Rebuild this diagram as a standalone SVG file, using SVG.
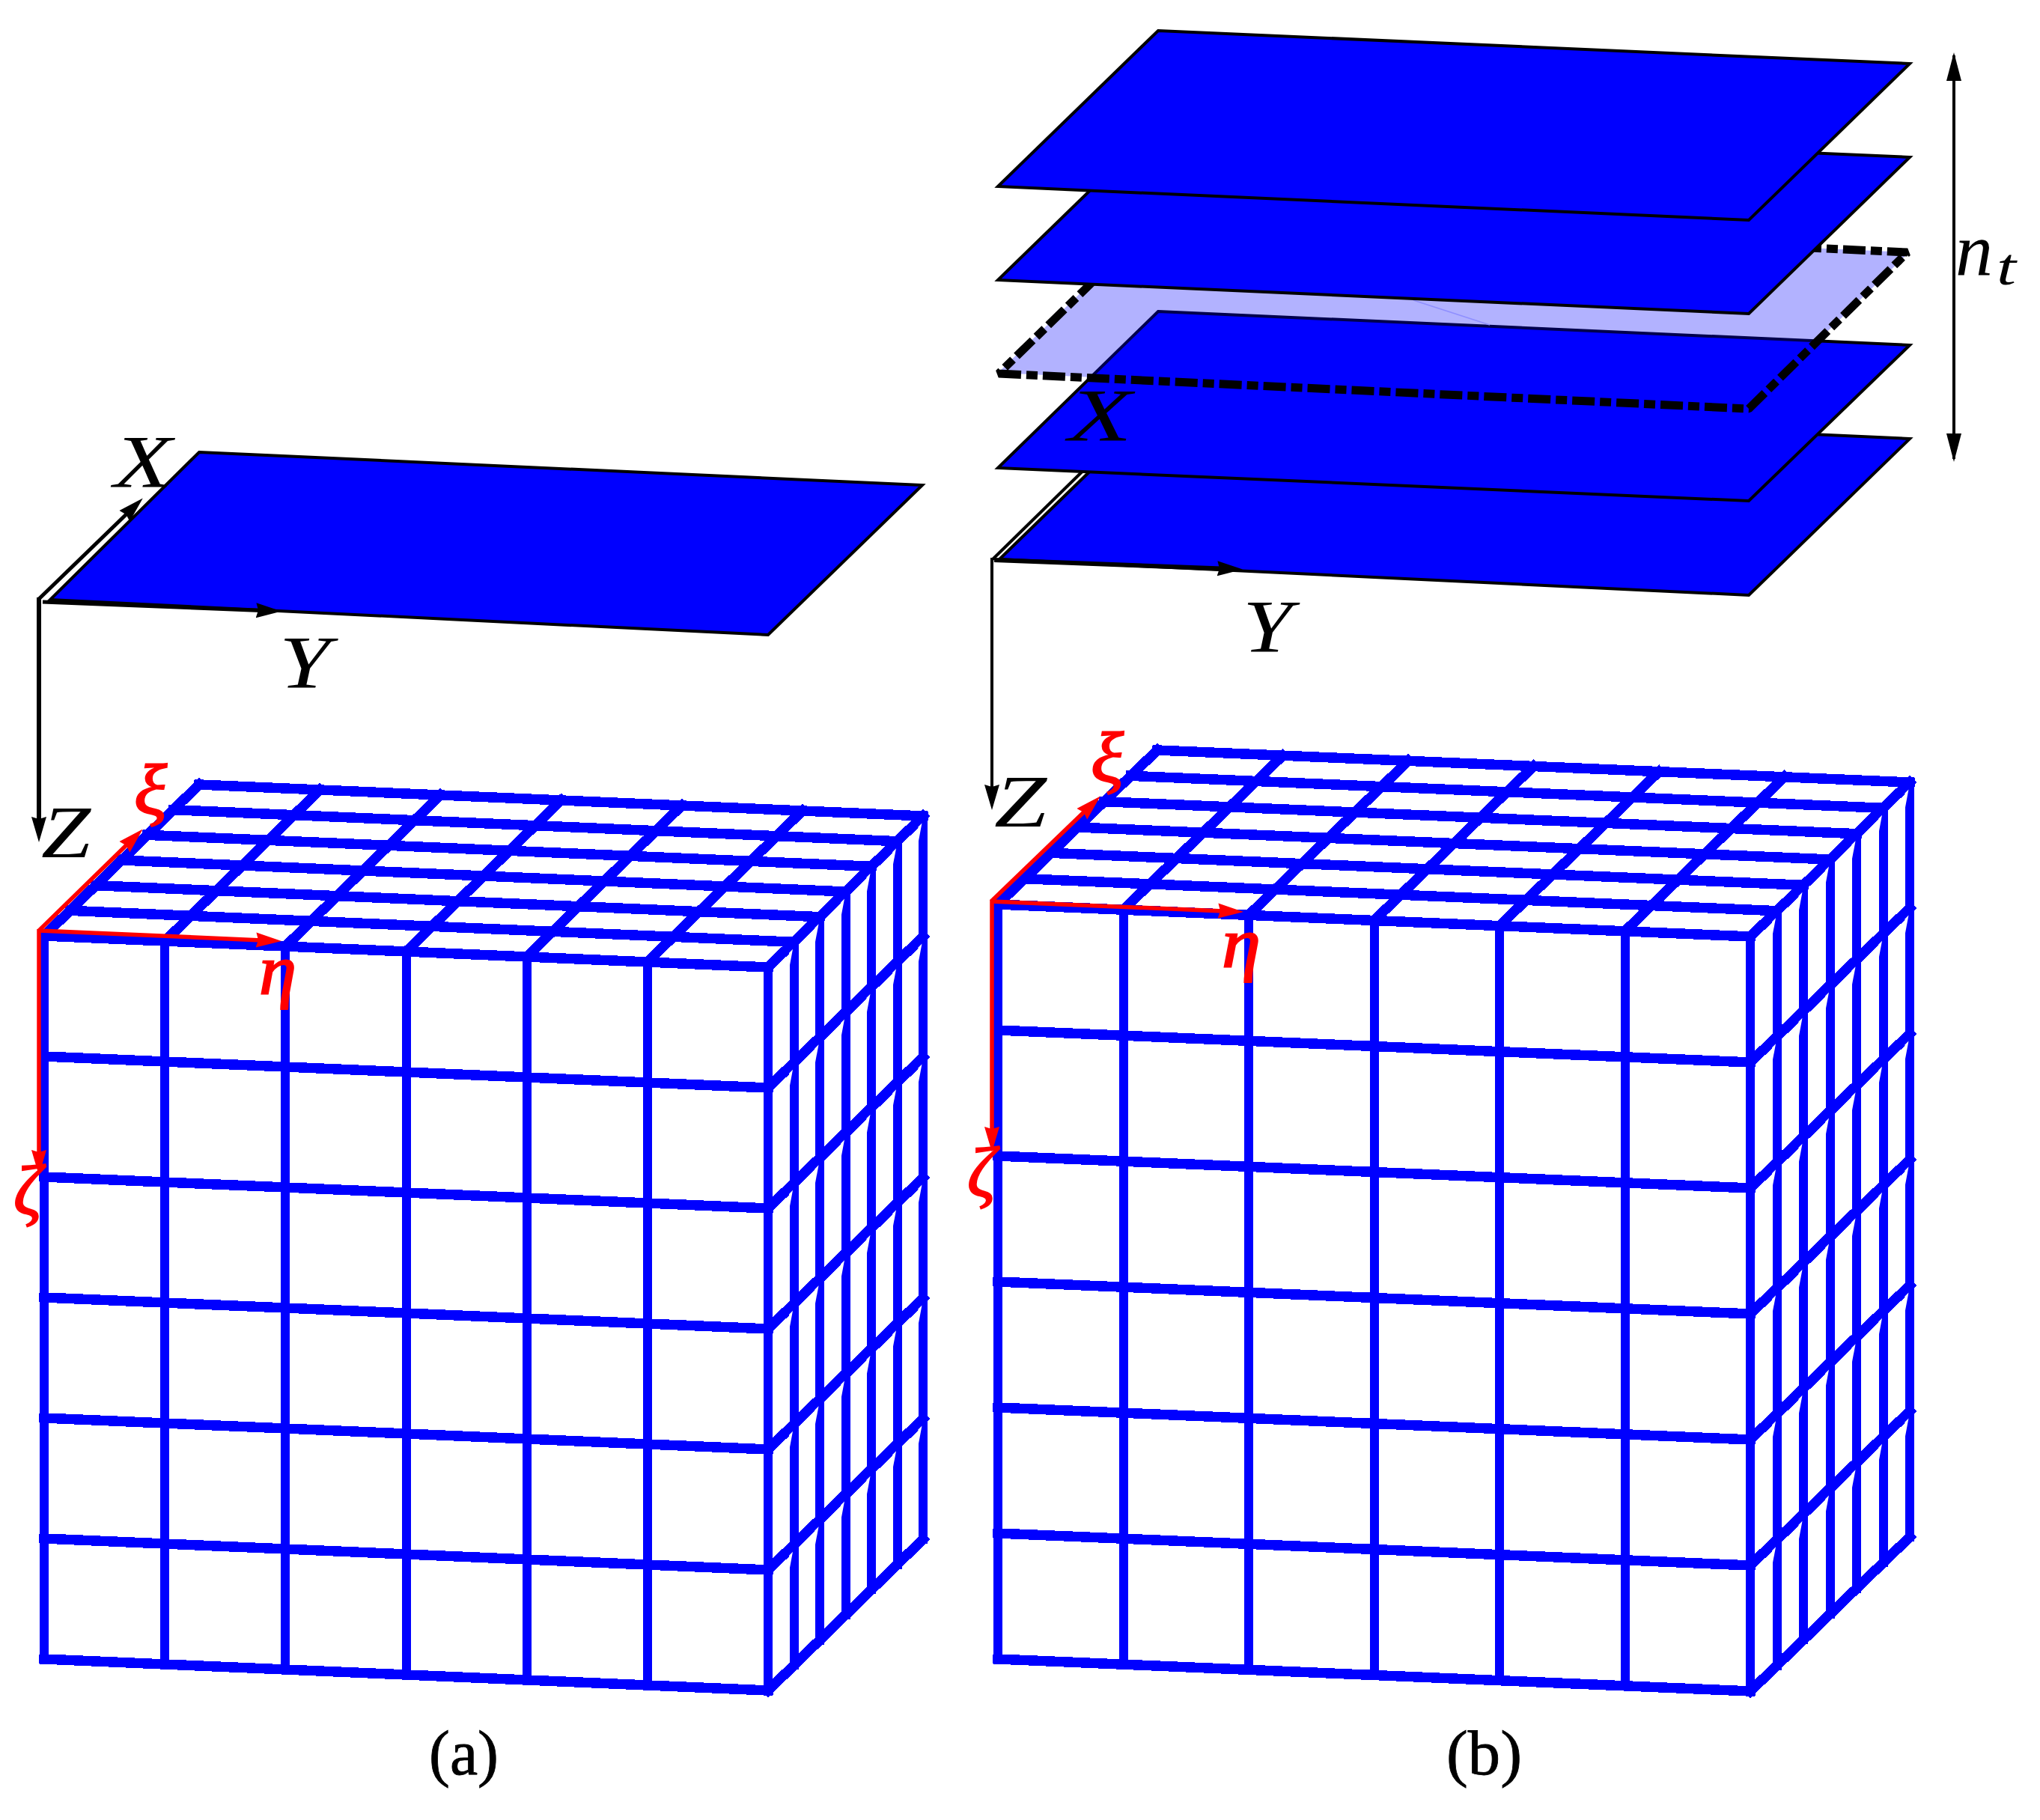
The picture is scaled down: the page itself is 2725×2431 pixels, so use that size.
<svg xmlns="http://www.w3.org/2000/svg" xmlns:xlink="http://www.w3.org/1999/xlink" width="2725" height="2431" viewBox="0 0 2725 2431">
<style>
text{font-family:"Liberation Serif","Times New Roman",serif}
.m{font-style:italic;font-size:100px;fill:#000}
.g{font-style:italic;font-size:96px;fill:#f00;stroke:#f00;stroke-width:2}
.c{font-size:84px;fill:#000;stroke:#000;stroke-width:.8}
.plate{fill:#00f;stroke:#000;stroke-width:4;stroke-linejoin:miter}
.grid{fill:none;stroke:#00f;stroke-width:13.5;stroke-linecap:square;shape-rendering:crispEdges}
.vert{fill:none;stroke:#00f;stroke-width:12;stroke-linecap:square;shape-rendering:crispEdges}
.ax{fill:none;stroke:#000;stroke-width:5}
.rx{fill:none;stroke:#f00;stroke-width:5.5}
.notch{fill:#fff}
</style>
<defs>
<marker id="hk" markerUnits="userSpaceOnUse" markerWidth="40" markerHeight="24" refX="19" refY="12" orient="auto"><path d="M0 2L34 12L0 22L3 12z" fill="#000"/></marker>
<marker id="hks" markerUnits="userSpaceOnUse" markerWidth="40" markerHeight="24" refX="34" refY="12" orient="auto-start-reverse"><path d="M0 2L38 12L0 22z" fill="#000"/></marker>
<marker id="hr" markerUnits="userSpaceOnUse" markerWidth="40" markerHeight="24" refX="19" refY="12" orient="auto"><path d="M0 2L34 12L0 22L3 12z" fill="#f00"/></marker>
<path id="n" class="notch" d="M-6.5 14.5L-1.5 9.5L-6.5 36z"/>
</defs>
<rect width="2725" height="2431" fill="#fff"/>

<g id="panel-a">
<g id="plate-a"><polygon class="plate" points="266,604 1232,648 1026,848 67,801"/></g>
<g id="axes-xyz-a">
<path class="ax" d="M52 800L180 676" marker-end="url(#hk)"/>
<path class="ax" d="M57 804L361 816" marker-end="url(#hk)"/>
<path class="ax" style="stroke-width:6" d="M52 798V1110" marker-end="url(#hk)"/>
</g>
<g id="cube-a">
<path class="vert" d="M59 1250V2216M220.2 1257V2223M381.3 1264V2230M542.5 1271V2237M703.7 1278V2244M864.8 1285V2251M1026 1292V2258
M1060.5 1258.3V2224.3M1095 1224.7V2190.7M1129.5 1191V2157M1164 1157.3V2123.3M1198.5 1123.7V2089.7M1233 1090V2056"/>
<path class="grid" d="M59 1250l967 42M93.5 1216.3l967 42M128 1182.7l967 42M162.5 1149l967 42M197 1115.3l967 42M231.5 1081.7l967 42M266 1048l967 42
M59 1250l207 -202M220.2 1257l207 -202M381.3 1264l207 -202M542.5 1271l207 -202M703.7 1278l207 -202M864.8 1285l207 -202M1026 1292l207 -202
M59 1411l967 42M59 1572l967 42M59 1733l967 42M59 1894l967 42M59 2055l967 42M59 2216l967 42
M1026 1453l207 -202M1026 1614l207 -202M1026 1775l207 -202M1026 1936l207 -202M1026 2097l207 -202M1026 2258l207 -202"/>
<g id="notchrow-a">
<use xlink:href="#n" href="#n" x="1060.5" y="1258.3"/><use xlink:href="#n" href="#n" x="1095" y="1224.7"/><use xlink:href="#n" href="#n" x="1129.5" y="1191"/><use xlink:href="#n" href="#n" x="1164" y="1157.3"/><use xlink:href="#n" href="#n" x="1198.5" y="1123.7"/><use xlink:href="#n" href="#n" x="1233" y="1090"/>
</g>
<use href="#notchrow-a" y="161"/><use href="#notchrow-a" y="322"/><use href="#notchrow-a" y="483"/><use href="#notchrow-a" y="644"/><use href="#notchrow-a" y="805"/>
</g>
<g id="axes-xi-a">
<path class="rx" d="M52 1243L180 1118" marker-end="url(#hr)"/>
<path class="rx" d="M52 1243L361 1256.4" marker-end="url(#hr)"/>
<path class="rx" d="M52 1241V1555" marker-end="url(#hr)"/>
</g>
<g id="labels-a">
<text class="m" x="152" y="650" textLength="78" lengthAdjust="spacingAndGlyphs">X</text>
<text class="m" x="373" y="918" textLength="68" lengthAdjust="spacingAndGlyphs">Y</text>
<text class="m" x="55" y="1145" textLength="66" lengthAdjust="spacingAndGlyphs">Z</text>
<text class="g" x="179" y="1087" textLength="44" lengthAdjust="spacingAndGlyphs">ξ</text>
<text class="g" x="346" y="1328" textLength="50" lengthAdjust="spacingAndGlyphs">η</text>
<text class="g" x="18" y="1622" textLength="38" lengthAdjust="spacingAndGlyphs">ζ</text>
<text class="c" x="573" y="2370" textLength="93" lengthAdjust="spacingAndGlyphs">(a)</text>
</g>
</g>

<g id="panel-b">
<g id="plate-b5"><polygon class="plate" points="1547,541 2551,586 2336,795 1335,747"/></g>
<g id="axes-xyz-b">
<path class="ax" style="stroke-width:4" d="M1326 747L1470 606"/>
<path class="ax" style="stroke-width:6" d="M1328 748L1645 760" marker-end="url(#hk)"/>
<path class="ax" style="stroke-width:4" d="M1325 745V1067" marker-end="url(#hk)"/>
</g>
<g id="plate-b4"><polygon class="plate" points="1547,416 2551,461 2336,669 1333,625"/></g>
<g id="plate-dashed">
<polygon points="1547,291 2550,337 2336,545 1333,498" fill="#00f" fill-opacity=".3"/>
<path d="M1888 401L1990 434" stroke="#8f8fff" stroke-width="1.5" fill="none"/>
<polygon points="1334,499 2336,546 2548,337 1547,291" fill="none" stroke="#000" stroke-width="11" stroke-linejoin="bevel" stroke-dasharray="30 7 15 7"/>
</g>
<g id="plate-b2"><polygon class="plate" points="1547,166 2551,210 2336,419 1333,374"/></g>
<g id="plate-b1"><polygon class="plate" points="1547,41 2551,85 2336,294 1333,249"/></g>
<g id="nt-arrow"><path class="ax" style="stroke-width:4" d="M2610 74V613" marker-start="url(#hks)" marker-end="url(#hks)"/></g>
<g id="cube-b">
<path class="vert" d="M1333 1208V2216M1500.5 1215.2V2223.2M1668 1222.3V2230.3M1835.5 1229.5V2237.5M2003 1236.7V2244.7M2170.5 1243.8V2251.8M2338 1251V2259
M2373.5 1216.7V2224.7M2409 1182.3V2190.3M2444.5 1148V2156M2480 1113.7V2121.7M2515.5 1079.3V2087.3M2551 1045V2053"/>
<path class="grid" d="M1333 1208l1005 43M1368.5 1173.7l1005 43M1404 1139.3l1005 43M1439.5 1105l1005 43M1475 1070.7l1005 43M1510.5 1036.3l1005 43M1546 1002l1005 43
M1333 1208l213 -206M1500.5 1215.2l213 -206M1668 1222.3l213 -206M1835.5 1229.5l213 -206M2003 1236.7l213 -206M2170.5 1243.8l213 -206M2338 1251l213 -206
M1333 1376l1005 43M1333 1544l1005 43M1333 1712l1005 43M1333 1880l1005 43M1333 2048l1005 43M1333 2216l1005 43
M2338 1419l213 -206M2338 1587l213 -206M2338 1755l213 -206M2338 1923l213 -206M2338 2091l213 -206M2338 2259l213 -206"/>
<g id="notchrow-b">
<use xlink:href="#n" href="#n" x="2373.5" y="1216.7"/><use xlink:href="#n" href="#n" x="2409" y="1182.3"/><use xlink:href="#n" href="#n" x="2444.5" y="1148"/><use xlink:href="#n" href="#n" x="2480" y="1113.7"/><use xlink:href="#n" href="#n" x="2515.5" y="1079.3"/><use xlink:href="#n" href="#n" x="2551" y="1045"/>
</g>
<use href="#notchrow-b" y="168"/><use href="#notchrow-b" y="336"/><use href="#notchrow-b" y="504"/><use href="#notchrow-b" y="672"/><use href="#notchrow-b" y="840"/>
</g>
<g id="axes-xi-b">
<path class="rx" d="M1324 1204L1459 1074" marker-end="url(#hr)"/>
<path class="rx" d="M1324 1204L1646 1217.4" marker-end="url(#hr)"/>
<path class="rx" d="M1325 1202V1524" marker-end="url(#hr)"/>
</g>
<g id="labels-b">
<text class="m" x="1427" y="588" textLength="85" lengthAdjust="spacingAndGlyphs">X</text>
<text class="m" x="1660" y="870" textLength="66" lengthAdjust="spacingAndGlyphs">Y</text>
<text class="m" x="1328" y="1104" textLength="70" lengthAdjust="spacingAndGlyphs">Z</text>
<text class="g" x="1457" y="1044" textLength="44" lengthAdjust="spacingAndGlyphs">ξ</text>
<text class="g" x="1632" y="1292" textLength="52" lengthAdjust="spacingAndGlyphs">η</text>
<text class="g" x="1292" y="1598" textLength="38" lengthAdjust="spacingAndGlyphs">ζ</text>
<text class="m" x="2612" y="367" textLength="50" lengthAdjust="spacingAndGlyphs">n</text>
<text class="m" style="font-size:70px" x="2667" y="380" textLength="26" lengthAdjust="spacingAndGlyphs">t</text>
<text class="c" x="1932" y="2370" textLength="101" lengthAdjust="spacingAndGlyphs">(b)</text>
</g>
</g>
</svg>
